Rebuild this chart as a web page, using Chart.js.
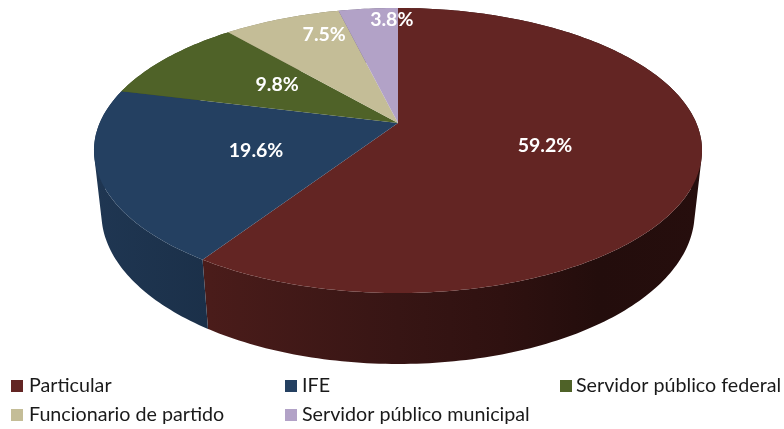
<!DOCTYPE html>
<html>
<head>
<meta charset="utf-8">
<style>html,body{margin:0;padding:0;background:#fff}canvas{display:block}</style>
<script src="https://cdn.jsdelivr.net/npm/chart.js@4"></script>
</head>
<body>
<canvas id="c" width="784" height="429"></canvas>
<script>
const categories = ['Particular', 'IFE', 'Servidor público federal', 'Funcionario de partido', 'Servidor público municipal'];
const shares = [59.2, 19.6, 9.8, 7.5, 3.8];
const colors = ['#632523', '#244061', '#4F6228', '#C4BD97', '#B2A2C7'];

// Perspective projection of the disc (unit circle) onto the page
const P = {cx: 398, a: 298.3, c: 123, b: 113.46, p: -0.193, q: 0.024, d: 66};
function project(x, y, z) {
  const w = 1 + P.p * y + P.q * z;
  return [P.cx + P.a * x / w, (P.c + P.b * y + P.d * z) / w];
}
const rim = (t, z) => project(Math.cos(t), Math.sin(t), z);

function shade(hex, f) {
  const n = parseInt(hex.slice(1), 16);
  return `rgb(${Math.round((n >> 16) * f)},${Math.round(((n >> 8) & 255) * f)},${Math.round((n & 255) * f)})`;
}
const wallStops = [[0, .85], [.19, .75], [.5, .56], [.67, .47], [.83, .35], [1, .38]];

const labelNudge = [[0, 2], [2, 2], [0, -4], [-11, -32], [10, -41]];
const legendCols = [11, 285, 560, 11, 285];
const legendTextCols = [29, 302, 576, 29, 302];
const legendRows = [380, 380, 380, 409, 409];

const pie3d = {
  id: 'pie3d',
  beforeDatasetDraw(chart, args) {
    const ctx = chart.ctx, arcs = args.meta.data;
    const step = Math.PI / 180;
    // side walls: one path of small quads, all wound the same way
    arcs.forEach((arc, i) => {
      const g = ctx.createLinearGradient(94, 0, 702, 0);
      wallStops.forEach(s => g.addColorStop(s[0], shade(colors[i], s[1])));
      const pts = [];
      for (let t = arc.startAngle; t < arc.endAngle; t += step) pts.push(t);
      pts.push(arc.endAngle);
      ctx.beginPath();
      for (let k = 0; k + 1 < pts.length; k++) {
        let q = [rim(pts[k], 0), rim(pts[k + 1], 0), rim(pts[k + 1], 1), rim(pts[k], 1)];
        let area = 0;
        q.forEach((a, n) => { const b = q[(n + 1) % 4]; area += a[0] * b[1] - b[0] * a[1]; });
        if (area < 0) q = q.reverse();
        q.forEach((a, n) => n ? ctx.lineTo(a[0], a[1]) : ctx.moveTo(a[0], a[1]));
        ctx.closePath();
      }
      ctx.fillStyle = g;
      ctx.fill();
    });
    // top faces
    arcs.forEach((arc, i) => {
      const o = project(0, 0, 0);
      ctx.beginPath();
      ctx.moveTo(o[0], o[1]);
      for (let t = arc.startAngle; t < arc.endAngle; t += step) { const p = rim(t, 0); ctx.lineTo(p[0], p[1]); }
      const e = rim(arc.endAngle, 0);
      ctx.lineTo(e[0], e[1]);
      ctx.closePath();
      ctx.fillStyle = arc.options.backgroundColor;
      ctx.fill();
    });
    return false;
  },
  afterDraw(chart) {
    const ctx = chart.ctx, arcs = chart.getDatasetMeta(0).data;
    ctx.save();
    ctx.textBaseline = 'middle';
    // value labels
    ctx.font = 'bold 19.5px Lato, sans-serif';
    ctx.textAlign = 'center';
    ctx.fillStyle = '#fff';
    arcs.forEach((arc, i) => {
      const m = (arc.startAngle + arc.endAngle) / 2;
      const p = project(.5 * Math.cos(m), .5 * Math.sin(m), 0);
      ctx.fillText(shares[i].toFixed(1) + '%', p[0] + labelNudge[i][0], p[1] + labelNudge[i][1]);
    });
    // legend
    ctx.font = '19.7px Lato, sans-serif';
    ctx.textAlign = 'left';
    categories.forEach((name, i) => {
      ctx.fillStyle = colors[i];
      ctx.fillRect(legendCols[i], legendRows[i], 12, 12);
      ctx.fillStyle = '#1a1a1a';
      ctx.fillText(name, legendTextCols[i], legendRows[i] + 6);
    });
    ctx.restore();
  }
};

new Chart(document.getElementById('c'), {
  type: 'pie',
  data: {
    labels: categories,
    datasets: [{data: shares, backgroundColor: colors, borderWidth: 0}]
  },
  options: {
    responsive: false,
    animation: false,
    plugins: {legend: {display: false}, tooltip: {enabled: false}, title: {display: false}}
  },
  plugins: [pie3d]
});
</script>
</body>
</html>
